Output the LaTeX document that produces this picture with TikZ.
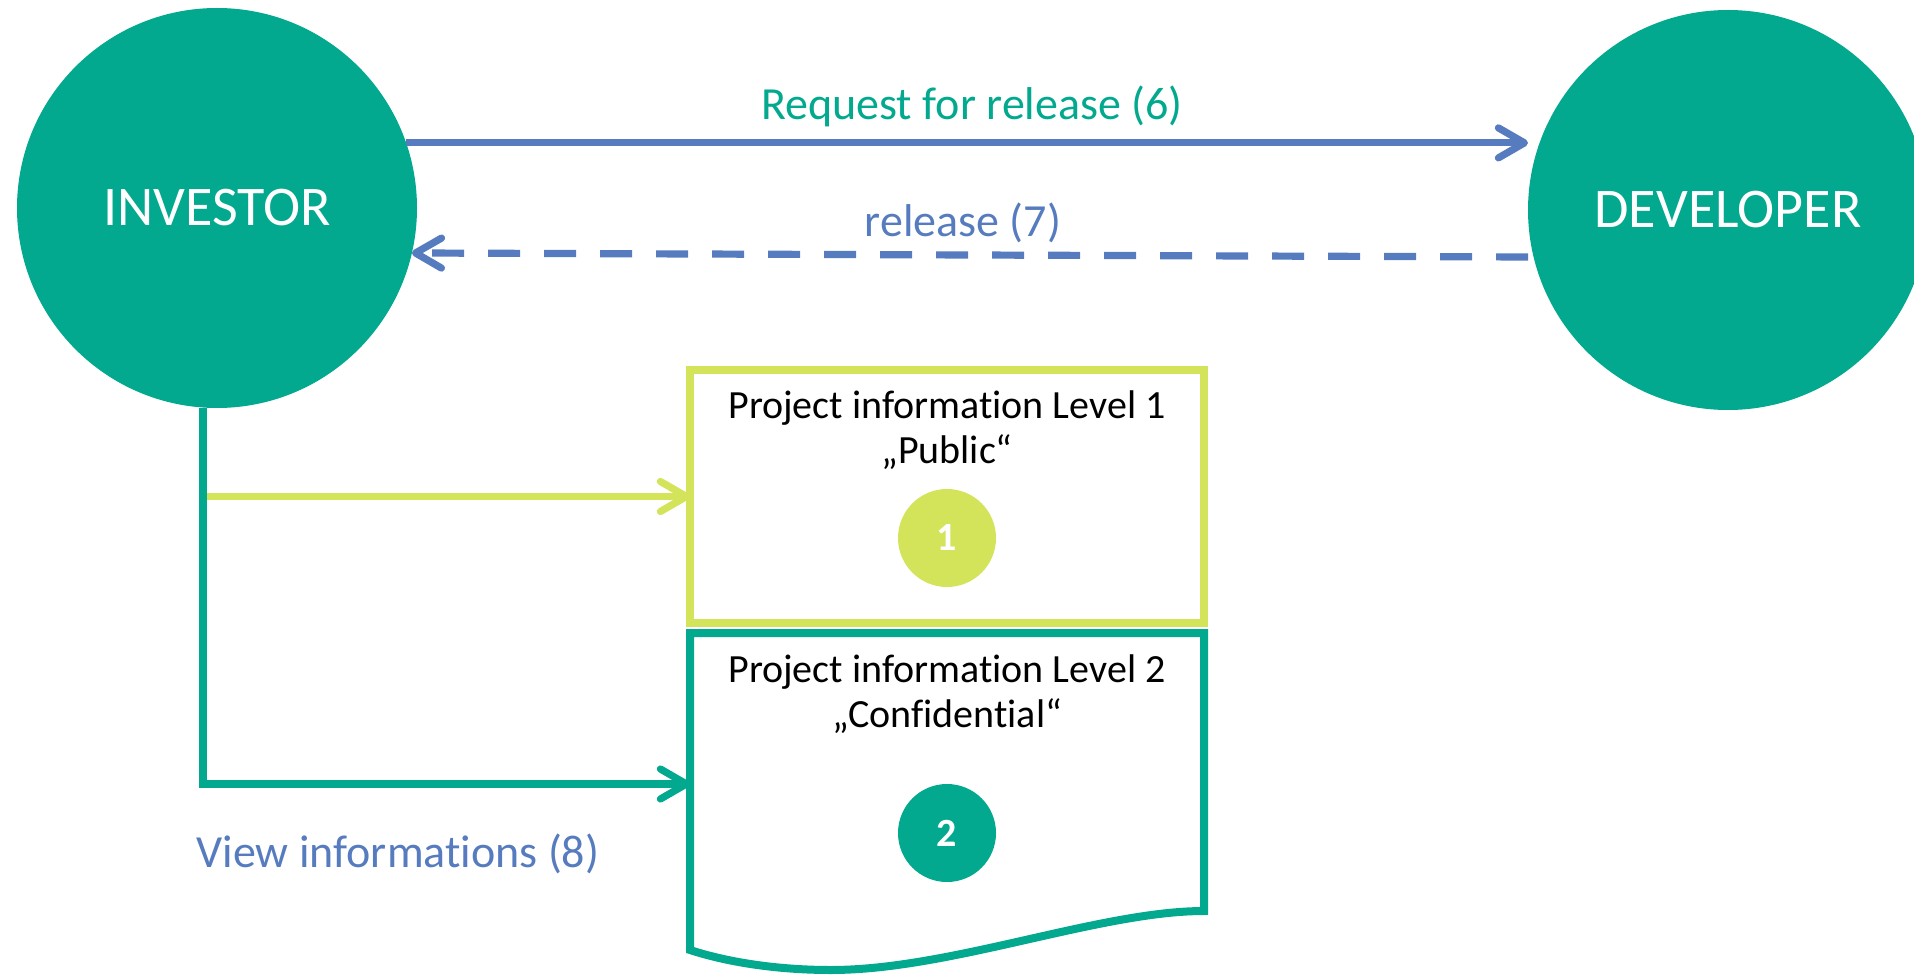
\documentclass[tikz,border=0pt]{standalone}
\usepackage{fontspec}
\setmainfont{Carlito}[Ligatures=NoCommon]
\usetikzlibrary{arrows.meta}
\definecolor{teal1}{RGB}{2,169,142}
\definecolor{lime1}{RGB}{212,228,90}
\definecolor{blue1}{RGB}{86,124,191}
\newcommand{\myti}{t\kern0pt i}
\begin{document}
\begin{tikzpicture}[x=0.5pt,y=-0.5pt,
  actor/.style={circle, fill=teal1, minimum size=200pt, inner sep=0pt, outer sep=0pt, text=white, font=\fontsize{28}{30}\selectfont},
  conn/.style={line width=3.6pt, -{Straight Barb[length=13pt,width=15pt,round]}},
  lbl/.style={anchor=base, inner sep=0pt, font=\fontsize{23}{26}\selectfont},
  boxtxt/.style={anchor=base, inner sep=0pt, font=\fontsize{20}{22}\selectfont},
  numdot/.style={circle, minimum size=49pt, inner sep=0pt, outer sep=0pt, text=white, font=\fontsize{20}{22}\selectfont\bfseries},
  frame/.style={minimum width=257pt, inner sep=0pt, outer sep=0pt},
]
\clip (0,0) rectangle (1914,978);
% actors
\node[actor] (inv) at (217,208) {INVESTOR};
\node[actor] (dev) at (1728,210) {DEVELOPER};
% request / release
\draw[conn, blue1] (inv.19.6) -- (inv.19.6 -| dev.west);
\node[lbl, text=teal1] (lreq) at (972,120) {Request for release (6)};
\coordinate (relR) at (1528,257);
\draw[conn, blue1, dash pattern=on 16pt off 12pt] (relR) -- (inv.-13);
\node[lbl, text=blue1] (lrel) at (963,237) {release (7)};
% box 1
\node[frame, draw=lime1, line width=4pt, minimum height=126.5pt] (box1) at (947,496.5) {};
\node[boxtxt] (t1a) at (947,418) {Project informa\myti on Level 1};
\node[boxtxt] (t1b) at (947,463) {„Public“};
\node[numdot, fill=lime1] (n1) at (947,538) {1};
% box 2 (document shape)
\node[frame, minimum height=139pt] (box2) at (947,772) {};
\draw[teal1, line width=4pt, line join=miter]
  (box2.north west) -- (box2.north east) -- (box2.south east)
  .. controls (1100,911) and (950,970) .. (831,970)
  .. controls (780,970) and (730,963) .. (690,950) -- cycle;
\node[boxtxt] (t2a) at (947,682) {Project informa\myti on Level 2};
\node[boxtxt] (t2b) at (947,727) {„Confiden\myti al“};
\node[numdot, fill=teal1] (n2) at (947,833) {2};
% view connectors
\draw[conn, lime1] (inv.266.3 |- box1.west) -- (box1.west);
\coordinate (b2in) at (690,784);
\draw[conn, teal1, line join=miter] (inv.266.3) |- (b2in);
\node[lbl, text=blue1] (lview) at (398,867) {View informa\myti ons (8)};
\end{tikzpicture}
\end{document}
